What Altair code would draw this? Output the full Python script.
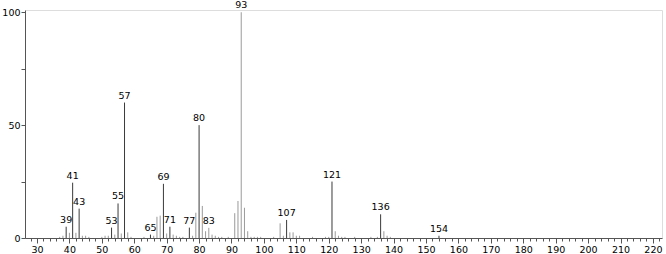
import altair as alt
import pandas as pd

mz = [37, 38, 39, 40, 41, 42, 43, 44, 45, 46, 50, 51, 52, 53, 54, 55, 56, 57, 58, 59,
      63, 65, 66, 67, 68, 69, 70, 71, 72, 73, 74, 75, 77, 78, 79, 80, 81, 82, 83, 84,
      85, 86, 87, 89, 91, 92, 93, 94, 95, 96, 97, 98, 99, 103, 105, 106, 107, 108, 109,
      110, 111, 115, 119, 120, 121, 122, 123, 124, 125, 128, 133, 135, 136, 137, 138,
      139, 154]
intensity = [0.5, 1, 5, 2.3, 24.5, 2.3, 13, 1, 1, 0.5, 0.5, 1, 1, 4.6, 1.5, 15.3, 2, 60, 2.5, 0.5,
             0.5, 1.5, 1, 9.4, 9.9, 24, 2, 5, 1.5, 1, 0.5, 0.5, 4.6, 1, 11.2, 50, 14.2, 3, 4.5, 1.5,
             1, 0.5, 0.5, 0.5, 11, 16.4, 100, 13.4, 3, 0.5, 0.5, 0.5, 0.5, 0.5, 6.5, 1, 8, 2.5, 2.5,
             1, 1, 0.5, 0.5, 0.5, 25, 3, 1, 0.5, 0.5, 0.5, 0.5, 0.5, 10.5, 3, 1,
             0.5, 1]
labeled = [39, 41, 43, 53, 55, 57, 65, 69, 71, 77, 80, 83, 93, 107, 121, 136, 154]
dark = [39, 41, 43, 53, 55, 57, 65, 69, 71, 77, 80, 107, 121, 136, 154]

x_major = list(range(30, 230, 10))
x_minor = list(range(28, 223, 2))
y_ticks = [0, 25, 50, 75, 100]

df = pd.DataFrame({"mz": mz, "intensity": intensity})
df["tone"] = ["dark" if m in dark else "light" for m in mz]
lab = df[df["mz"].isin(labeled)].copy()
lab["txt"] = lab["mz"].astype(str)

FONT = "DejaVu Sans"
xscale = alt.Scale(domain=[26.3, 222.8], nice=False, zero=False)
yscale = alt.Scale(domain=[0, 101], nice=False)
yaxis = alt.Axis(values=y_ticks, grid=False, tickSize=4, domainColor="#555",
                 tickColor="#555", labelExpr="datum.value % 50 == 0 ? datum.label : ''",
                 labelFont=FONT, labelFontSize=9.5, labelColor="#000",
                 labelPadding=1, title=None)

bars = alt.Chart(df).mark_rule(strokeWidth=1).encode(
    x=alt.X("mz:Q", scale=xscale,
            axis=alt.Axis(values=x_minor, labels=False, tickSize=3, grid=False,
                          domain=True, domainColor="#555", tickColor="#555",
                          title=None, orient="bottom")),
    y=alt.Y("intensity:Q", scale=yscale, axis=yaxis),
    y2=alt.datum(0),
    color=alt.Color("tone:N", scale=alt.Scale(domain=["dark", "light"], range=["#3a3a3a", "#9a9a9a"]),
                    legend=None),
)

major = alt.Chart(pd.DataFrame({"v": x_major})).mark_point(opacity=0).encode(
    x=alt.X("v:Q", scale=xscale,
            axis=alt.Axis(values=x_major, tickSize=5, grid=False, domain=False,
                          tickColor="#555", labelFont=FONT, labelFontSize=9.5,
                          labelColor="#000", labelPadding=1, title=None, orient="bottom")),
)

texts = alt.Chart(lab).mark_text(baseline="bottom", dy=-2, font=FONT, fontSize=9.5,
                                 color="#000").encode(
    x=alt.X("mz:Q", scale=xscale, axis=None),
    y=alt.Y("intensity:Q", scale=yscale, axis=yaxis),
    text="txt:N",
)

chart = alt.layer(bars, major, texts).resolve_axis(x="independent").properties(
    width=637, height=228,
    autosize=alt.AutoSizeParams(type="none"),
    padding={"left": 25, "top": 10, "right": 4, "bottom": 16},
).configure_view(stroke=None).configure(background="white")

chart.save("out.html", embed_options={"renderer": "svg", "actions": False})
